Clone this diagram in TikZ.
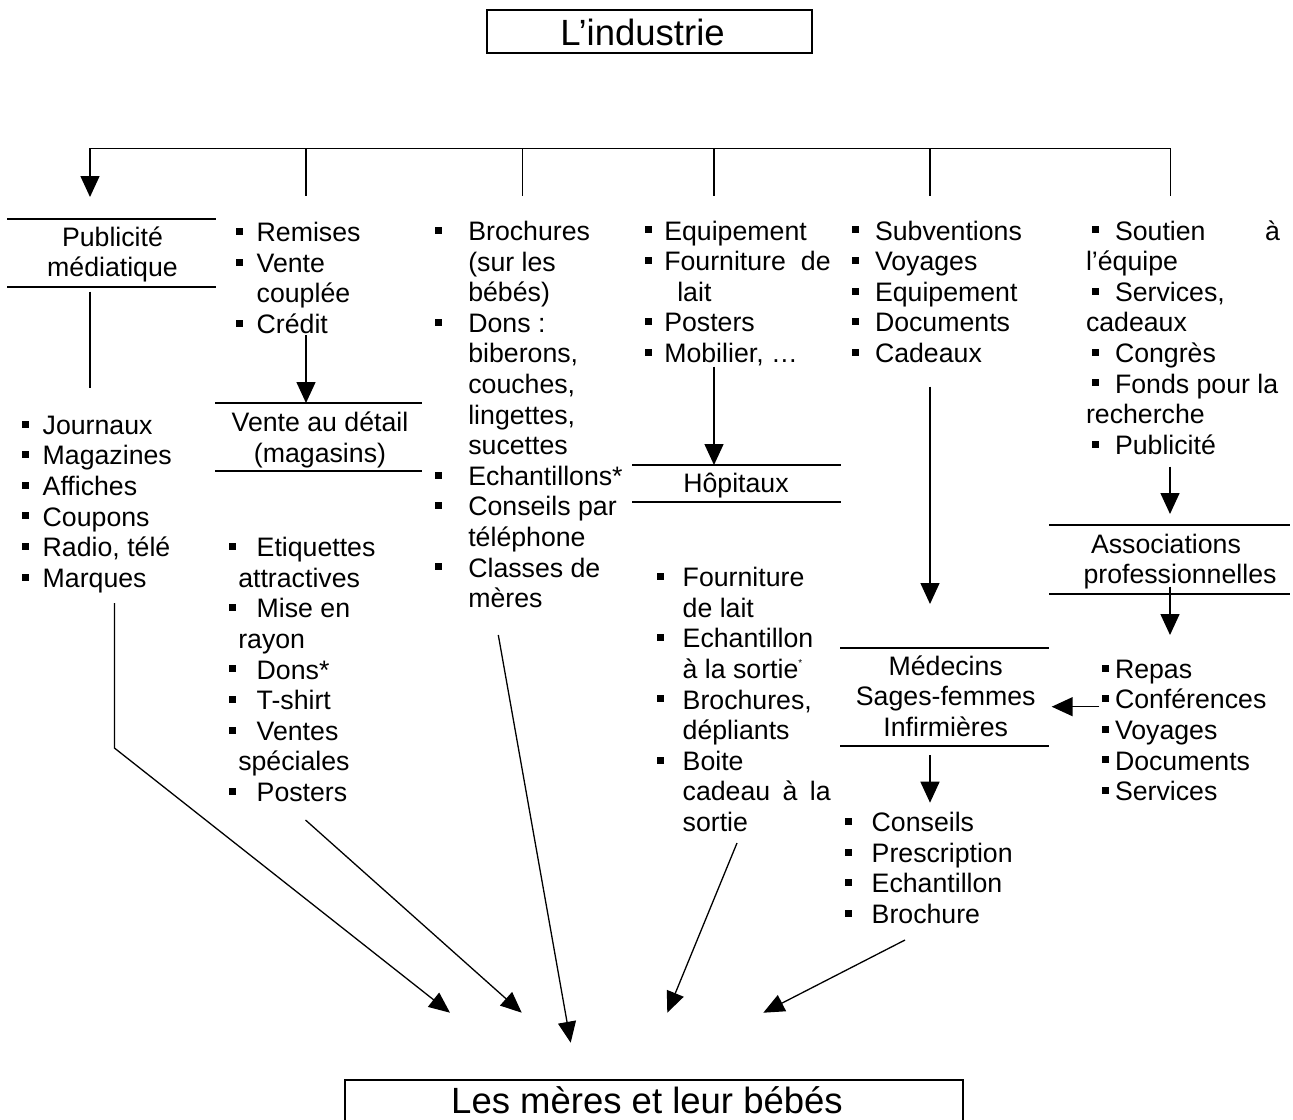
\documentclass[tikz,border=0pt]{standalone}
\usepackage{fontspec}
\setmainfont{Liberation Sans}
\usetikzlibrary{arrows.meta}
\newcommand{\bul}{\rule[6.7pt]{7pt}{7pt}}
\newcommand{\bi}[2]{\hbox{\makebox[#1][l]{\bul}#2}}
\newcommand{\bo}[3]{\hbox{\kern#1\makebox[#2][l]{\bul}#3}}
\newcommand{\ci}[2]{\hbox{\kern#1 #2}}
\newcommand{\stk}[1]{\vtop{\baselineskip=30.6pt\lineskiplimit=-60pt\lineskip=0pt #1}}
\newcommand{\cl}[1]{\hbox to 0pt{\hss#1\hss}}
\begin{document}
\begin{tikzpicture}[x=1pt,y=-1pt,
  txt/.style={inner sep=0pt, outer sep=0pt, anchor=base west, font=\fontsize{26.7pt}{30.6pt}\selectfont},
  hd/.style={inner sep=0pt, outer sep=0pt, anchor=base, font=\fontsize{26.7pt}{30.6pt}\selectfont},
  big/.style={inner sep=0pt, outer sep=0pt, anchor=base, font=\fontsize{36.5pt}{40pt}\selectfont},
  rulebox/.style={inner sep=0pt, outer sep=0pt, draw=none, anchor=north west},
  rl/.style={line width=1.8pt},
  ln/.style={line width=1.5pt},
  arr/.style={line width=1.5pt, -{Triangle[length=21pt,width=19pt]}},
  darr/.style={line width=1.3pt, -{Triangle[length=21pt,width=18pt]}}]
\useasboundingbox (0,0) rectangle (1293,1119);
\clip (0,0) rectangle (1293,1119);
\fill[white] (0,0) rectangle (1293,1119);

% title and target boxes
\node[rulebox, draw, line width=1.8pt, minimum width=325pt, minimum height=43pt] (ind) at (487,10) {};
\node[big] (indt) at (642.5,45) {L’industrie};
\node[rulebox, draw, line width=1.8pt, minimum width=618pt, minimum height=80pt] (mer) at (345,1080) {};
\node[big] (mert) at (647,1113.5) {Les mères et leur bébés};

% header rule boxes
\node[rulebox, minimum width=209pt, minimum height=67.7pt] (pub) at (7,219) {};
\node[rulebox, minimum width=206.7pt, minimum height=68.3pt] (ven) at (215,402.7) {};
\node[rulebox, minimum width=208.7pt, minimum height=36.7pt] (hop) at (632,465) {};
\node[rulebox, minimum width=241pt, minimum height=69pt] (ass) at (1049,525) {};
\node[rulebox, minimum width=209pt, minimum height=98.3pt] (med) at (840,647.7) {};
\foreach \b in {pub,ven,hop,ass,med}{
  \draw[rl] (\b.north west) -- (\b.north east);
  \draw[rl] (\b.south west) -- (\b.south east);
}

% header texts
\node[hd] (pubt) at (112.5,246) {\stk{\cl{Publicité}\cl{médiatique}}};
\node[hd] (vent) at (320,431.7) {\stk{\cl{Vente au détail}\cl{(magasins)}}};
\node[hd] (hopt) at (736,492.7) {\cl{Hôpitaux}};
\node[hd] (asst) at (1173,553.3) {\stk{\cl{Associations\kern14pt}\cl{\kern14pt professionnelles}}};
\node[hd] (medt) at (945.7,675) {\stk{\cl{Médecins}\cl{Sages-femmes}\cl{Infirmières}}};

% lists
\node[txt] (l1) at (21.7,434.3) {\stk{\bi{21pt}{Journaux}\bi{21pt}{Magazines}\bi{21pt}{Affiches}\bi{21pt}{Coupons}\bi{21pt}{Radio, télé}\bi{21pt}{Marques}}};
\node[txt] (l2a) at (235.7,241.7) {\stk{\bi{21pt}{Remises}\bi{21pt}{Vente}\ci{21pt}{couplée}\bi{21pt}{Crédit}}};
\node[txt] (l2b) at (229.3,556.7) {\stk{\bi{27.4pt}{Etiquettes}\ci{9pt}{attractives}\bi{27.4pt}{Mise en}\ci{9pt}{rayon}\bi{27.4pt}{Dons*}\bi{27.4pt}{T-shirt}\bi{27.4pt}{Ventes}\ci{9pt}{spéciales}\bi{27.4pt}{Posters}}};
\node[txt] (l3) at (435,240.5) {\stk{\bi{33.3pt}{Brochures}\ci{33.3pt}{(sur les}\ci{33.3pt}{bébés)}\bi{33.3pt}{Dons :}\ci{33.3pt}{biberons,}\ci{33.3pt}{couches,}\ci{33.3pt}{lingettes,}\ci{33.3pt}{sucettes}\bi{33.3pt}{Echantillons*}\bi{33.3pt}{Conseils par}\ci{33.3pt}{téléphone}\bi{33.3pt}{Classes de}\ci{33.3pt}{mères}}};
\node[txt] (l4a) at (645,240) {\stk{\bi{19.3pt}{Equipement}\bi{19.3pt}{\hbox to 166.4pt{Fourniture\hfill de}}\ci{32.3pt}{lait}\bi{19.3pt}{Posters}\bi{19.3pt}{Mobilier, …}}};
\node[txt] (l4b) at (657.3,586.7) {\stk{\bi{25.4pt}{Fourniture}\ci{25.4pt}{de lait}\bi{25.4pt}{Echantillon}\ci{25.4pt}{à la sortie\raisebox{12pt}{\fontsize{10pt}{10pt}\selectfont *}}\bi{25.4pt}{Brochures,}\ci{25.4pt}{dépliants}\bi{25.4pt}{Boite}\ci{25.4pt}{\hbox to 148pt{cadeau\hfill à\hfill la}}\ci{25.4pt}{sortie}}};
\node[txt] (l5a) at (851.7,240) {\stk{\bi{23.3pt}{Subventions}\bi{23.3pt}{Voyages}\bi{23.3pt}{Equipement}\bi{23.3pt}{Documents}\bi{23.3pt}{Cadeaux}}};
\node[txt] (l5b) at (845,831.7) {\stk{\bi{26.7pt}{Conseils}\bi{26.7pt}{Prescription}\bi{26.7pt}{Echantillon}\bi{26.7pt}{Brochure}}};
\node[txt] (l6a) at (1086,240) {\stk{\bo{6.3pt}{22.7pt}{\hbox to 165pt{Soutien\hfill à}}\ci{0pt}{l’équipe}\bo{6.3pt}{22.7pt}{Services,}\ci{0pt}{cadeaux}\bo{6.3pt}{22.7pt}{Congrès}\bo{6.3pt}{22.7pt}{Fonds pour la}\ci{0pt}{recherche}\bo{6.3pt}{22.7pt}{Publicité}}};
\node[txt] (l6b) at (1101.7,678.3) {\stk{\bi{13.3pt}{Repas}\bi{13.3pt}{Conférences}\bi{13.3pt}{Voyages}\bi{13.3pt}{Documents}\bi{13.3pt}{Services}}};

% connector end points
\coordinate (b1) at (90,148.3);
\coordinate (b2) at (306,148.3);
\coordinate (b3) at (522.3,148.3);
\coordinate (b4) at (714,148.3);
\coordinate (b5) at (930,148.3);
\coordinate (b6) at (1170.7,148.3);
\coordinate (d1) at (90,197);
\coordinate (d2) at (306,196);
\coordinate (d3) at (522.3,196);
\coordinate (d4) at (714,196);
\coordinate (d5) at (930,196);
\coordinate (d6) at (1170.7,196);
\coordinate (p1) at (90,291.7);
\coordinate (p2) at (90,388.3);
\coordinate (c1) at (306,335);
\coordinate (c2) at (306,403);
\coordinate (m1) at (714,366.7);
\coordinate (m2) at (714,465);
\coordinate (k1) at (930,386.7);
\coordinate (k2) at (930,604);
\coordinate (q1) at (1170,466.7);
\coordinate (q2) at (1170,514);
\coordinate (a1) at (1170,586.7);
\coordinate (a2) at (1170,635);
\coordinate (e1) at (930,755);
\coordinate (e2) at (930,802.7);
\coordinate (r1) at (1099.3,706.7);
\coordinate (r2) at (1051.7,706.7);
\coordinate (g1) at (114.4,603);
\coordinate (g2) at (114.4,748);
\coordinate (t1) at (450,1012.7);
\coordinate (g3) at (305.5,820);
\coordinate (t2) at (521.7,1012.7);
\coordinate (g4) at (498.3,635);
\coordinate (t3) at (570.7,1042.7);
\coordinate (g5) at (737,843);
\coordinate (t4) at (667.3,1012.7);
\coordinate (g6) at (905,940);
\coordinate (t5) at (763.3,1012.7);

% bracket
\draw[ln] (b1) -- (b6);
\draw[arr] (b1) -- (d1);
\draw[ln] (b2) -- (d2);
\draw[ln] (b3) -- (d3);
\draw[ln] (b4) -- (d4);
\draw[ln] (b5) -- (d5);
\draw[ln] (b6) -- (d6);

% vertical connectors
\draw[ln] (p1) -- (p2);
\draw[arr] (c1) -- (c2);
\draw[arr] (m1) -- (m2);
\draw[arr] (k1) -- (k2);
\draw[arr] (q1) -- (q2);
\draw[arr] (a1) -- (a2);
\draw[arr] (e1) -- (e2);
\draw[arr] (r1) -- (r2);

% to the mothers
\draw[darr] (g1) -- (g2) -- (t1);
\draw[darr] (g3) -- (t2);
\draw[darr] (g4) -- (t3);
\draw[darr] (g5) -- (t4);
\draw[darr] (g6) -- (t5);
\end{tikzpicture}
\end{document}
